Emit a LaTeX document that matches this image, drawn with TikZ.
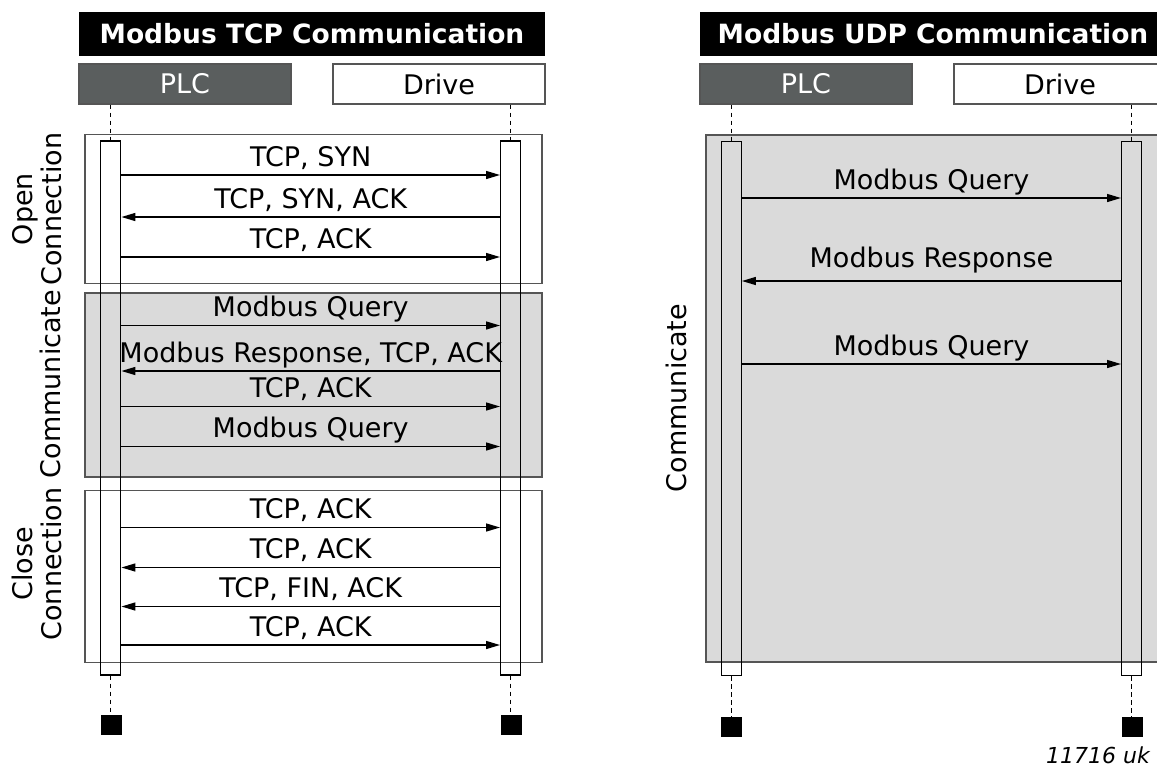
\documentclass[tikz,border=0pt]{standalone}
\usepackage{fontspec}
\setmainfont{DejaVu Sans}
\usepackage{tikz}
\usetikzlibrary{arrows.meta}
\definecolor{plcgray}{RGB}{90,94,94}
\definecolor{edgegray}{RGB}{85,85,85}
\definecolor{phasegray}{RGB}{218,218,218}
\tikzstyle{bigfont} = [font=\fontsize{27}{28.5}\selectfont]
\tikzstyle{titlebox} = [fill=black, text=white, font=\bfseries\fontsize{26.5}{28}\selectfont,
    minimum width=466pt, minimum height=44pt, inner sep=0pt]
\tikzstyle{plcbox} = [bigfont, draw=edgegray, fill=plcgray, text=white, line width=1.3pt,
    minimum width=212pt, minimum height=40pt, inner sep=0pt]
\tikzstyle{drivebox} = [plcbox, fill=white, text=black]
\tikzstyle{phase} = [draw=edgegray, line width=1.3pt, minimum width=457pt, inner sep=0pt]
\tikzstyle{actbar} = [draw=black, line width=1.4pt, minimum width=20pt, minimum height=534pt, inner sep=0pt]
\tikzstyle{endmark} = [fill=black, minimum width=21pt, minimum height=20pt, inner sep=0pt]
\tikzstyle{lifeline} = [line width=1.3pt, dash pattern=on 4.5pt off 3.5pt]
\tikzstyle{msg} = [line width=1.4pt, -{Triangle[length=14pt,width=8pt]}]
\tikzstyle{msglabel} = [bigfont, midway, anchor=south, inner sep=0pt, text depth=8pt]
\tikzstyle{sidelabel} = [bigfont, rotate=90, align=center, inner sep=0pt]

\begin{document}
\begin{tikzpicture}[x=1pt,y=-1pt]
\useasboundingbox (0,0) rectangle (1157,772);
\clip (0,0) rectangle (1157,772);

% Modbus TCP
\node[titlebox] (tcptitle) at (312,34) {Modbus TCP Communication};
\node[plcbox] (tcpplc) at (185,84) {PLC};
\node[drivebox] (tcpdrive) at (439,84) {Drive};

\node[phase] (openbox) at (313.5,209) [minimum height=149pt] {};
\node[phase, fill=phasegray] (commbox) at (313.5,385) [minimum height=184pt] {};
\node[phase] (closebox) at (313.5,576.5) [minimum height=172pt] {};

\node[sidelabel] (openlbl) at (37,209) {Open\\Connection};
\node[sidelabel] (commlbl) at (50,384) {Communicate};
\node[sidelabel] (closelbl) at (37,564) {Close\\Connection};

\node[actbar] (plcbar) at (110.7,408) {};
\node[actbar] (drivebar) at (510.7,408) {};
\node[endmark] (plcend) at (111.2,725) {};
\node[endmark] (driveend) at (511.2,725) {};

\draw[lifeline] (tcpplc.south -| plcbar.north) -- (plcbar.north);
\draw[lifeline] (plcbar.south) -- (plcend.north -| plcbar.south);
\draw[lifeline] (tcpdrive.south -| drivebar.north) -- (drivebar.north);
\draw[lifeline] (drivebar.south) -- (driveend.north -| drivebar.south);

\draw[msg] (plcbar.east |- 0,175) -- node[msglabel] (m1) {TCP, SYN} (drivebar.west |- 0,175);
\draw[msg] (drivebar.west |- 0,217) -- node[msglabel] (m2) {TCP, SYN, ACK} (plcbar.east |- 0,217);
\draw[msg] (plcbar.east |- 0,257) -- node[msglabel] (m3) {TCP, ACK} (drivebar.west |- 0,257);
\draw[msg] (plcbar.east |- 0,325.5) -- node[msglabel] (m4) {Modbus Query} (drivebar.west |- 0,325.5);
\draw[msg] (drivebar.west |- 0,371) -- node[msglabel] (m5) {Modbus Response, TCP, ACK} (plcbar.east |- 0,371);
\draw[msg] (plcbar.east |- 0,406.5) -- node[msglabel] (m6) {TCP, ACK} (drivebar.west |- 0,406.5);
\draw[msg] (plcbar.east |- 0,446.5) -- node[msglabel] (m7) {Modbus Query} (drivebar.west |- 0,446.5);
\draw[msg] (plcbar.east |- 0,527.5) -- node[msglabel] (m8) {TCP, ACK} (drivebar.west |- 0,527.5);
\draw[msg] (drivebar.west |- 0,567.5) -- node[msglabel] (m9) {TCP, ACK} (plcbar.east |- 0,567.5);
\draw[msg] (drivebar.west |- 0,606.5) -- node[msglabel] (m10) {TCP, FIN, ACK} (plcbar.east |- 0,606.5);
\draw[msg] (plcbar.east |- 0,645) -- node[msglabel] (m11) {TCP, ACK} (drivebar.west |- 0,645);

% Modbus UDP
\node[titlebox] (udptitle) at (933,34) {Modbus UDP Communication};
\node[plcbox] (udpplc) at (806,84) {PLC};
\node[drivebox] (udpdrive) at (1060,84) {Drive};

\node[phase, fill=phasegray] (udpcomm) at (934.5,398.5) [minimum height=527pt] {};
\node[sidelabel] (udpcommlbl) at (676,398) {Communicate};

\node[actbar] (udpplcbar) at (731.2,408.5) {};
\node[actbar] (udpdrivebar) at (1131.7,408.5) {};
\node[endmark] (udpplcend) at (731.7,727) {};
\node[endmark] (udpdriveend) at (1132.2,727) {};

\draw[lifeline] (udpplc.south -| udpplcbar.north) -- (udpplcbar.north);
\draw[lifeline] (udpplcbar.south) -- (udpplcend.north -| udpplcbar.south);
\draw[lifeline] (udpdrive.south -| udpdrivebar.north) -- (udpdrivebar.north);
\draw[lifeline] (udpdrivebar.south) -- (udpdriveend.north -| udpdrivebar.south);

\draw[msg] (udpplcbar.east |- 0,198) -- node[msglabel] (u1) {Modbus Query} (udpdrivebar.west |- 0,198);
\draw[msg] (udpdrivebar.west |- 0,281) -- node[msglabel, text depth=13pt] (u2) {Modbus Response} (udpplcbar.east |- 0,281);
\draw[msg] (udpplcbar.east |- 0,364) -- node[msglabel] (u3) {Modbus Query} (udpdrivebar.west |- 0,364);

\node[font=\itshape\fontsize{22}{24}\selectfont, anchor=base east, inner sep=0pt] (figno) at (1150,763) {11716 uk};
\end{tikzpicture}
\end{document}
